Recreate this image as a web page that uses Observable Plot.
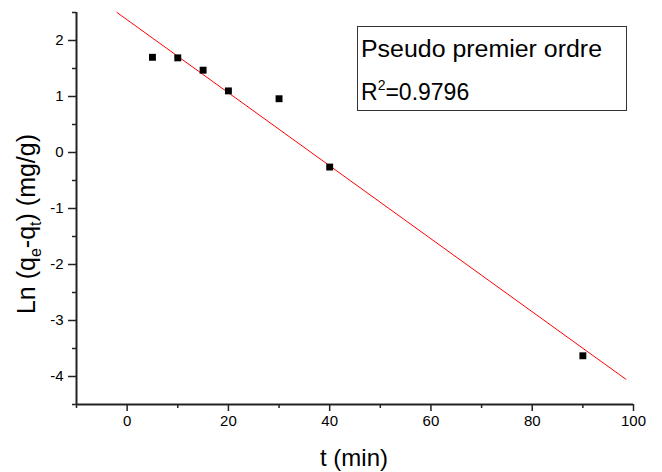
<!DOCTYPE html>
<html><head><meta charset="utf-8">
<script src="https://cdn.jsdelivr.net/npm/d3@7"></script>
<script src="https://cdn.jsdelivr.net/npm/@observablehq/plot@0.6"></script>
<style>body{margin:0;background:#fff} #chart{width:662px;height:472px}</style>
</head><body><div id="chart"></div>
<script>
const times = [5, 10, 15, 20, 30, 40, 90];
const lnValues = [1.70, 1.69, 1.47, 1.10, 0.96, -0.26, -3.63];
const fitTimes = [-2, 98.5];
const fitValues = [2.50, -4.05];
const xTicks = [0, 20, 40, 60, 80, 100];
const xMinorTicks = [-10, 10, 30, 50, 70, 90];
const yTicks = [-4, -3, -2, -1, 0, 1, 2];
const yMinorTicks = [-4.5, -3.5, -2.5, -1.5, -0.5, 0.5, 1.5, 2.5];
const legendTitle = "Pseudo premier ordre";
const r2Value = "=0.9796";

const points = times.map((t, i) => ({t, v: lnValues[i]}));
const fit = fitTimes.map((t, i) => ({t, v: fitValues[i]}));
const font = "'Liberation Sans', Arial, sans-serif";
const fmt = d => String(d);

const plot = Plot.plot({
  width: 662, height: 472,
  marginLeft: 76, marginRight: 29, marginTop: 12, marginBottom: 68,
  style: {fontFamily: font, fontSize: "15px", color: "#000", background: "#fff"},
  x: {domain: [-10, 100]},
  y: {domain: [-4.5, 2.5]},
  marks: [
    Plot.axisX({ticks: xMinorTicks, tickSize: 4, tickFormat: () => "", label: null, stroke: "#222", strokeWidth: 1.5}),
    Plot.axisX({ticks: xTicks, tickSize: 7, tickPadding: 4, tickFormat: fmt, label: null, stroke: "#222", strokeWidth: 1.5, fill: "#000", fontSize: 15}),
    Plot.axisY({ticks: yMinorTicks, tickSize: 4, tickFormat: () => "", label: null, stroke: "#222", strokeWidth: 1.5}),
    Plot.axisY({ticks: yTicks, tickSize: 8, tickPadding: 5, tickFormat: fmt, label: null, stroke: "#222", strokeWidth: 1.5, fill: "#000", fontSize: 15}),
    Plot.ruleX([-10], {stroke: "#222", strokeWidth: 2}),
    Plot.ruleY([-4.5], {stroke: "#222", strokeWidth: 2}),
    Plot.line(fit, {x: "t", y: "v", stroke: "#ff0000", strokeWidth: 1}),
    Plot.dot(points, {x: "t", y: "v", symbol: "square", r: 3.9, fill: "#000", stroke: "none"})
  ]
});
document.getElementById("chart").append(plot);

const svg = d3.select(plot);
svg.selectAll("g[aria-label='x-axis tick label'], g[aria-label='y-axis tick label']")
  .attr("font-size", 15).style("font-size", "15px").selectAll("text").style("font-size", "15px");
// x title
svg.append("text").attr("x", 354).attr("y", 466).attr("text-anchor", "middle")
  .attr("font-family", font).attr("font-size", 24).attr("fill", "#000").text("t (min)");
// y title
const yt = svg.append("text").attr("transform", "translate(35,224) rotate(-90)")
  .attr("text-anchor", "middle").attr("font-family", font).attr("font-size", 25).attr("fill", "#000");
yt.append("tspan").text("Ln (q");
yt.append("tspan").attr("dy", 6).attr("font-size", 16).text("e");
yt.append("tspan").attr("dy", -6).text("-q");
yt.append("tspan").attr("dy", 6).attr("font-size", 16).text("t");
yt.append("tspan").attr("dy", -6).text(") (mg/g)");
// legend box
svg.append("rect").attr("x", 357.5).attr("y", 26.5).attr("width", 269).attr("height", 84)
  .attr("fill", "#fff").attr("stroke", "#333").attr("stroke-width", 1);
svg.append("text").attr("x", 361).attr("y", 57).attr("text-anchor", "start").attr("font-family", font).attr("font-size", 23)
  .attr("fill", "#000").attr("textLength", 241).attr("lengthAdjust", "spacingAndGlyphs").text(legendTitle);
const r2 = svg.append("text").attr("x", 361).attr("y", 100).attr("text-anchor", "start").attr("font-family", font).attr("font-size", 23).attr("fill", "#000");
r2.append("tspan").text("R");
r2.append("tspan").attr("dy", -10).attr("font-size", 14).text("2");
r2.append("tspan").attr("dy", 10).text(r2Value);
</script>
</body></html>
